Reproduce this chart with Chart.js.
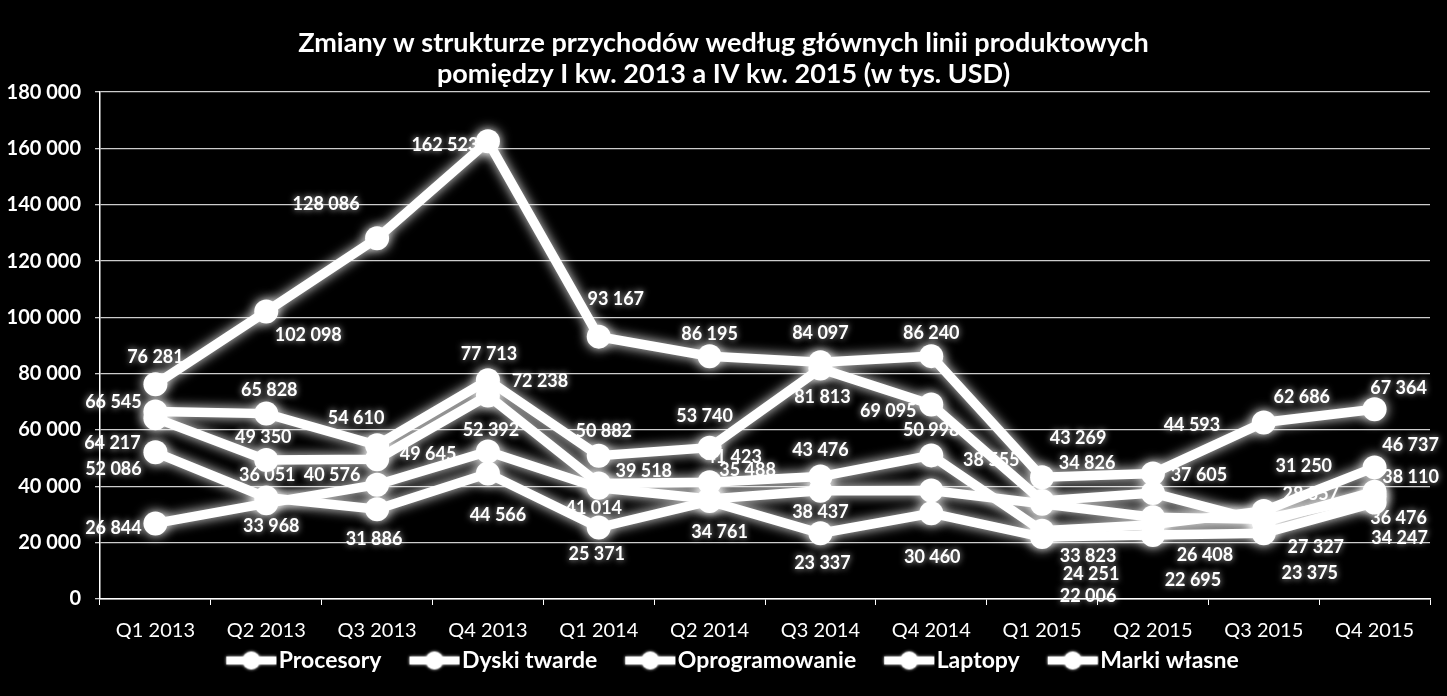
<!DOCTYPE html>
<html lang="pl">
<head>
<meta charset="utf-8">
<title>Zmiany w strukturze przychodów</title>
<script src="https://cdn.jsdelivr.net/npm/chart.js@4.4.1/dist/chart.umd.min.js"></script>
<style>
  html, body { margin: 0; padding: 0; background: #000; }
  #chart { display: block; background: #000; }
</style>
</head>
<body>
<canvas id="chart" width="1447" height="696"></canvas>
<script>
// categories and values (tys. USD)
var categories = ['Q1 2013', 'Q2 2013', 'Q3 2013', 'Q4 2013', 'Q1 2014', 'Q2 2014',
                  'Q3 2014', 'Q4 2014', 'Q1 2015', 'Q2 2015', 'Q3 2015', 'Q4 2015'];
var seriesNames = ['Procesory', 'Dyski twarde', 'Oprogramowanie', 'Laptopy', 'Marki własne'];
var procesory      = [76281, 102098, 128086, 162523, 93167, 86195, 84097, 86240, 43269, 44593, 62686, 67364];
var dyskiTwarde    = [66545, 65828, 54610, 77713, 50882, 53740, 81813, 69095, 34826, 37605, 27327, 38110];
var oprogramowanie = [64217, 49350, 49645, 72238, 41014, 41423, 43476, 50998, 24251, 26408, 31250, 46737];
var laptopy        = [52086, 36051, 31886, 44566, 25371, 34761, 23337, 30460, 22006, 22695, 23375, 34247];
var markiWlasne    = [26844, 33968, 40576, 52392, 39518, 35488, 38437, 38555, 33823, 29000, 28357, 36476];
var yMin = 0, yMax = 180000, yStep = 20000;

// where each value label sits relative to its point (px), null = label hidden
var labelOffsets = [
  [[0,-27],[42,24],[-51,-34],[-43,4],[17,-37],[0,-22],[0,-29],[0,-23],[36,-39],[39,-48],[38,-25],[24,-21]],
  [[-42,-9],[3,-23],[-21,-27],[1,-26],[5,-25],[-5,-31],[2,29],[-43,7],[45,-38],[46,-18],[52,25],[36,-14]],
  [[-43,25],[-3,-23],[51,-5],[52,-14],[-5,25],[24,-25],[0,-26],[0,-25],[49,43],[52,31],[40,-45],[36,-22]],
  [[-42,17],[1,-22],[-3,30],[10,42],[-2,27],[10,31],[2,30],[1,44],[46,59],[40,45],[46,40],[25,36]],
  [[-42,5],[5,23],[-45,-10],[3,-21],[45,-17],[38,-29],[0,21],[60,-30],[46,52],null,[47,-25],[24,22]]
];

var FONT = 'Lato';

function fmt(v) {
  return String(v).replace(/\B(?=(\d{3})+(?!\d))/g, ' ');
}

// legend symbol: short thick line with a dot in the middle
function makeLegendMarker() {
  var c = document.createElement('canvas');
  c.width = 79; c.height = 26;
  var g = c.getContext('2d');
  g.shadowColor = 'rgba(255,255,255,0.9)';
  g.shadowBlur = 3;
  g.strokeStyle = '#fff';
  g.lineWidth = 8;
  g.beginPath(); g.moveTo(28, 13); g.lineTo(78, 13); g.stroke();
  g.fillStyle = '#fff';
  g.beginPath(); g.arc(53, 13, 9, 0, 2 * Math.PI); g.fill();
  return c;
}
var legendMarker = makeLegendMarker();

var glowPlugin = {
  id: 'glow',
  beforeDatasetsDraw: function(chart) {
    var ctx = chart.ctx;
    ctx.save();
    ctx.shadowColor = 'rgba(255,255,255,0.95)';
    ctx.shadowBlur = 12;
  },
  afterDatasetsDraw: function(chart) {
    chart.ctx.restore();
  }
};

// value labels go under the grid and lines, like in the original
var labelPlugin = {
  id: 'valueLabels',
  beforeDraw: function(chart) {
    var ctx = chart.ctx;
    ctx.save();
    ctx.font = 'bold 18px ' + FONT;
    ctx.fillStyle = '#fff';
    ctx.textAlign = 'center';
    ctx.textBaseline = 'middle';
    ctx.shadowColor = 'rgba(255,255,255,0.8)';
    ctx.shadowBlur = 6;
    chart.data.datasets.forEach(function(ds, i) {
      var meta = chart.getDatasetMeta(i);
      meta.data.forEach(function(pt, j) {
        var off = labelOffsets[i][j];
        if (!off) return;
        ctx.fillText(fmt(ds.data[j]), pt.x + off[0], pt.y + off[1]);
      });
    });
    ctx.restore();
  }
};

function makeDataset(label, data) {
  return {
    label: label,
    data: data,
    borderColor: '#fff',
    backgroundColor: '#fff',
    borderWidth: 9.5,
    pointRadius: 12,
    pointBorderWidth: 0,
    pointBackgroundColor: '#fff',
    fill: false,
    tension: 0,
    clip: false
  };
}

var allSeries = [procesory, dyskiTwarde, oprogramowanie, laptopy, markiWlasne];

new Chart(document.getElementById('chart'), {
  type: 'line',
  data: {
    labels: categories,
    datasets: allSeries.map(function(d, i) { return makeDataset(seriesNames[i], d); })
  },
  options: {
    responsive: false,
    animation: false,
    layout: { padding: { left: 0, right: 0, top: 28, bottom: 14 } },
    plugins: {
      title: {
        display: true,
        text: ['Zmiany w strukturze przychodów według głównych linii produktowych',
               'pomiędzy I kw. 2013 a IV kw. 2015 (w tys. USD)'],
        color: '#fff',
        font: { family: FONT, size: 27, weight: 'bold', lineHeight: 1.15 },
        padding: { top: 0, bottom: 2 }
      },
      legend: {
        position: 'bottom',
        labels: {
          color: '#fff',
          font: { family: FONT, size: 23, weight: 'bold' },
          usePointStyle: true,
          pointStyleWidth: 59,
          padding: 10,
          generateLabels: function(chart) {
            var items = Chart.defaults.plugins.legend.labels.generateLabels(chart);
            items.forEach(function(it) { it.pointStyle = legendMarker; it.fontColor = '#fff'; });
            return items;
          }
        }
      },
      tooltip: { enabled: false }
    },
    scales: {
      x: {
        offset: true,
        grid: { drawOnChartArea: false, drawTicks: true, tickLength: 6, color: '#fff', offset: true },
        border: { color: '#fff', width: 1.5 },
        ticks: { color: '#fff', font: { family: FONT, size: 20 }, padding: 14, maxRotation: 0, autoSkip: false },
        afterFit: function(s) { s.height = 40; }
      },
      y: {
        min: yMin,
        max: yMax,
        ticks: {
          stepSize: yStep,
          color: '#fff',
          font: { family: FONT, size: 20, weight: 'bold' },
          padding: 14,
          callback: function(v) { return fmt(v); }
        },
        grid: { color: 'rgba(255,255,255,0.8)', lineWidth: 1.3, tickLength: 5 },
        border: { color: '#fff', width: 1.5 },
        afterFit: function(s) { s.width = 100; }
      },
      // empty spacer on the right so the plot ends where the original does
      yRight: {
        position: 'right',
        min: yMin,
        max: yMax,
        grid: { display: false },
        border: { display: false },
        ticks: { display: false },
        afterFit: function(s) { s.width = 17; }
      }
    }
  },
  plugins: [labelPlugin, glowPlugin]
});
</script>
</body>
</html>
